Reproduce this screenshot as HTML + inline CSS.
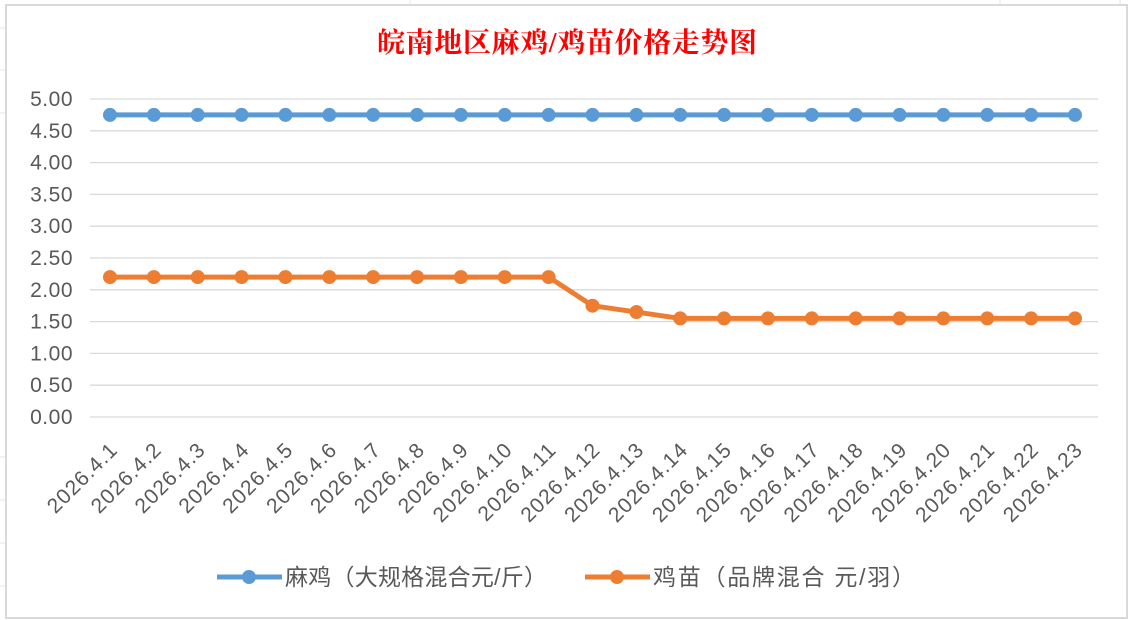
<!DOCTYPE html>
<html><head><meta charset="utf-8"><style>
body{margin:0;background:#fff;}
svg{display:block;font-family:"Liberation Sans","Noto Sans CJK SC",sans-serif;}
</style></head><body>
<svg width="1130" height="620" viewBox="0 0 1130 620">
<rect width="1130" height="620" fill="#fff"/>
<g stroke="#e4e4e4" stroke-width="1">
<line x1="0" x2="6" y1="28" y2="28"/>
<line x1="0" x2="6" y1="70" y2="70"/><line x1="0" x2="6" y1="113" y2="113"/>
<line x1="0" x2="6" y1="457" y2="457"/><line x1="0" x2="6" y1="500" y2="500"/>
<line x1="0" x2="6" y1="543" y2="543"/><line x1="0" x2="6" y1="586" y2="586"/>
<line x1="410" x2="410" y1="0" y2="5"/><line x1="1000" x2="1000" y1="0" y2="5"/><line x1="1120" x2="1120" y1="0" y2="5"/>
</g>
<rect x="6" y="5" width="1121" height="613" fill="#fff" stroke="#d9d9d9" stroke-width="2"/>
<text x="377" y="52" font-size="28" font-weight="bold" fill="#ff0000" textLength="380" font-family="'Liberation Serif','Noto Serif CJK SC',serif">皖南地区麻鸡/鸡苗价格走势图</text>
<g id="grid" stroke="#d9d9d9" stroke-width="1.3"></g>
<g id="ylab" font-size="21" fill="#595959" text-anchor="end" letter-spacing="0.5"></g>
<g id="xlab" font-size="21" fill="#595959" text-anchor="end" letter-spacing="1"></g>
<g id="s"></g>
<g font-size="23" fill="#595959">
<line x1="217" x2="282" y1="577" y2="577" stroke="#5b9bd5" stroke-width="5"/>
<circle cx="249" cy="577" r="7" fill="#5b9bd5"/>
<text x="285" y="585" textLength="262">麻鸡（大规格混合元/斤）</text>
<line x1="585" x2="650" y1="577" y2="577" stroke="#ed7d31" stroke-width="5"/>
<circle cx="617" cy="577" r="7" fill="#ed7d31"/>
<text x="653" y="585" textLength="262">鸡苗（品牌混合 元/羽）</text>
</g>
</svg>
<script>
const ns="http://www.w3.org/2000/svg";
function el(p,t,a,txt){const e=document.createElementNS(ns,t);for(const k in a)e.setAttribute(k,a[k]);if(txt)e.textContent=txt;document.getElementById(p).appendChild(e);}
const y0=417,sc=63.6;
for(let i=0;i<=10;i++){const v=i*0.5,y=y0-v*sc;el("grid","line",{x1:90,x2:1098,y1:y,y2:y});el("ylab","text",{x:73,y:y+7},v.toFixed(2));}
const xs=i=>110+i*965/22;
for(let i=0;i<23;i++){const x=xs(i)+9,y=451;el("xlab","text",{x:x,y:y,transform:`rotate(-45 ${x} ${y})`},"2026.4."+(i+1));}
const a=Array(23).fill(4.75);
const b=[2.2,2.2,2.2,2.2,2.2,2.2,2.2,2.2,2.2,2.2,2.2,1.75,1.65,1.55,1.55,1.55,1.55,1.55,1.55,1.55,1.55,1.55,1.55];
[[a,"#5b9bd5"],[b,"#ed7d31"]].forEach(([d,c])=>{
el("s","polyline",{points:d.map((v,i)=>xs(i)+","+(y0-v*sc)).join(" "),fill:"none",stroke:c,"stroke-width":5,"stroke-linejoin":"round"});
d.forEach((v,i)=>el("s","circle",{cx:xs(i),cy:y0-v*sc,r:7,fill:c}));});
</script>
</body></html>
